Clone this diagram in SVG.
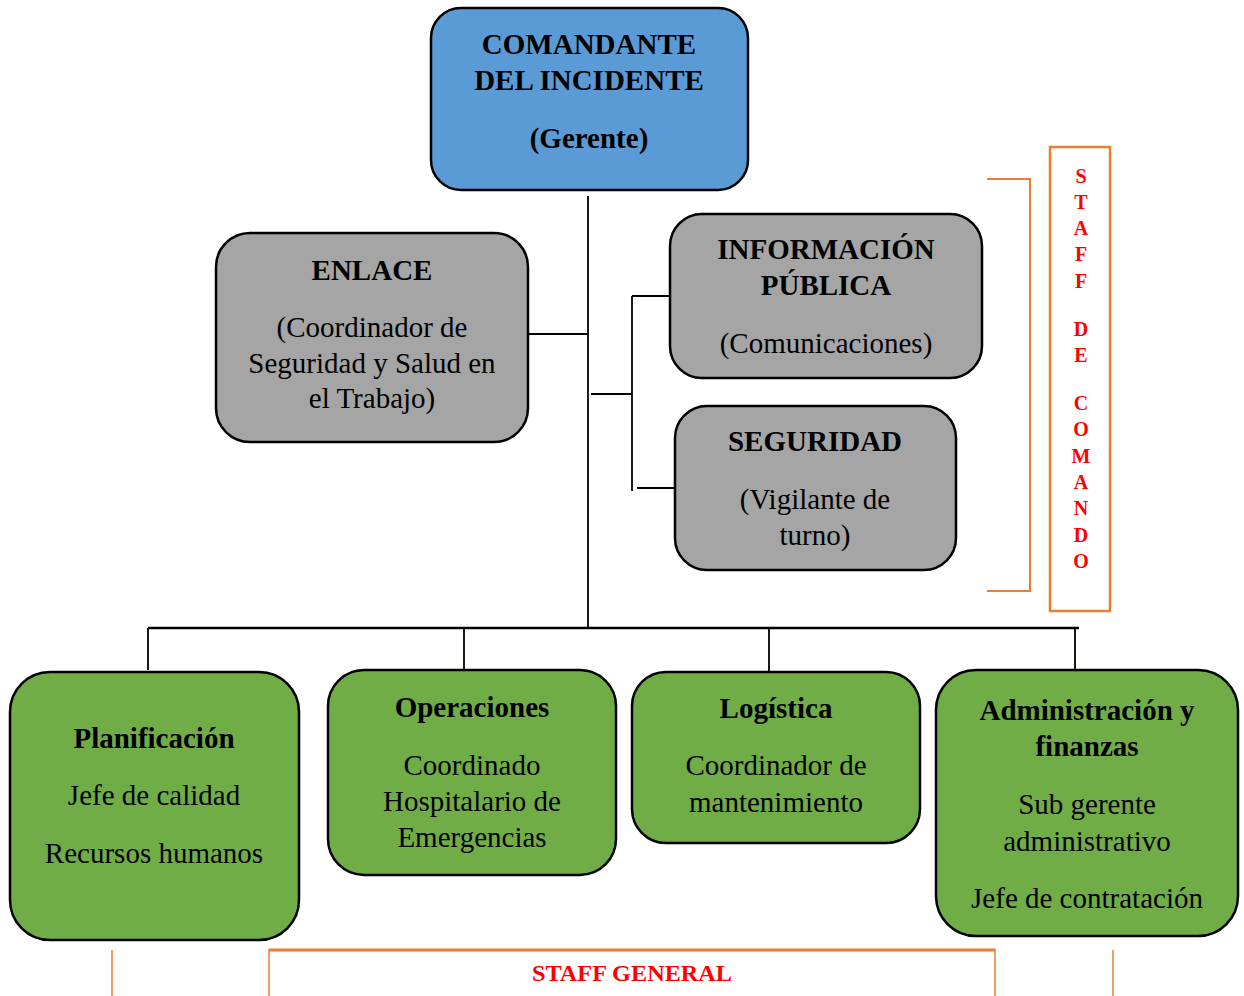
<svg xmlns="http://www.w3.org/2000/svg" width="1244" height="996" viewBox="0 0 1244 996">
<style>
.box{stroke:#000;stroke-width:2.5}
.blue{fill:#5B9BD5}
.gray{fill:#A5A5A5}
.green{fill:#70AD47}
text{font-family:"Liberation Serif","Times New Roman",serif;font-size:29px;fill:#000;text-anchor:middle}
.b{font-weight:bold}
.con{stroke:#000;stroke-width:1.8;fill:none}
.org{stroke:#ED7D31;fill:none}
.red{fill:#FF0000;font-weight:bold;font-size:20px}
</style>
<rect width="1244" height="996" fill="#fff"/>
<g id="connectors">
<line class="con" x1="588" y1="196" x2="588" y2="628"/>
<line class="con" x1="528" y1="334" x2="588" y2="334"/>
<line class="con" x1="591" y1="394" x2="632" y2="394"/>
<line class="con" x1="632" y1="296" x2="632" y2="491"/>
<line class="con" x1="632" y1="296" x2="670" y2="296"/>
<line class="con" x1="637" y1="488" x2="675" y2="488"/>
<line class="con" x1="148" y1="628" x2="1079" y2="628" style="stroke-width:2.5"/>
<line class="con" x1="148" y1="628" x2="148" y2="670"/>
<line class="con" x1="464" y1="628" x2="464" y2="670"/>
<line class="con" x1="769" y1="628" x2="769" y2="672"/>
<line class="con" x1="1075" y1="628" x2="1075" y2="670"/>
</g>
<g id="comandante">
<rect class="box blue" x="431" y="8" width="317" height="182" rx="30"/>
<text class="b" x="589" y="54">COMANDANTE</text>
<text class="b" x="589" y="90">DEL INCIDENTE</text>
<text class="b" x="589" y="148">(Gerente)</text>
</g>
<g id="enlace">
<rect class="box gray" x="216" y="233" width="312" height="209" rx="34"/>
<text class="b" x="372" y="280">ENLACE</text>
<text x="372" y="337">(Coordinador de</text>
<text x="372" y="373">Seguridad y Salud en</text>
<text x="372" y="408">el Trabajo)</text>
</g>
<g id="informacion">
<rect class="box gray" x="670" y="214" width="312" height="164" rx="32"/>
<text class="b" x="826" y="259">INFORMACIÓN</text>
<text class="b" x="826" y="295">PÚBLICA</text>
<text x="826" y="353">(Comunicaciones)</text>
</g>
<g id="seguridad">
<rect class="box gray" x="675" y="406" width="281" height="164" rx="32"/>
<text class="b" x="815" y="451">SEGURIDAD</text>
<text x="815" y="509">(Vigilante de</text>
<text x="815" y="545">turno)</text>
</g>
<g id="planificacion">
<rect class="box green" x="10" y="672" width="289" height="268" rx="40"/>
<text class="b" x="154" y="748">Planificación</text>
<text x="154" y="805">Jefe de calidad</text>
<text x="154" y="863">Recursos humanos</text>
</g>
<g id="operaciones">
<rect class="box green" x="328" y="670" width="288" height="205" rx="36"/>
<text class="b" x="472" y="717">Operaciones</text>
<text x="472" y="775">Coordinado</text>
<text x="472" y="811">Hospitalario de</text>
<text x="472" y="847">Emergencias</text>
</g>
<g id="logistica">
<rect class="box green" x="632" y="672" width="288" height="171" rx="34"/>
<text class="b" x="776" y="718">Logística</text>
<text x="776" y="775">Coordinador de</text>
<text x="776" y="812">mantenimiento</text>
</g>
<g id="administracion">
<rect class="box green" x="936" y="670" width="302" height="266" rx="40"/>
<text class="b" x="1087" y="720">Administración y</text>
<text class="b" x="1087" y="756">finanzas</text>
<text x="1087" y="814">Sub gerente</text>
<text x="1087" y="851">administrativo</text>
<text x="1087" y="908">Jefe de contratación</text>
</g>
<g id="staff-comando">
<polyline class="org" points="987,179 1030,179 1030,591 987,591" stroke-width="2"/>
<rect class="org" x="1050" y="147" width="60" height="464" stroke-width="2.5"/>
<text class="red" x="1081" y="183">S</text>
<text class="red" x="1081" y="209">T</text>
<text class="red" x="1081" y="235">A</text>
<text class="red" x="1081" y="261">F</text>
<text class="red" x="1081" y="288">F</text>
<text class="red" x="1081" y="336">D</text>
<text class="red" x="1081" y="362">E</text>
<text class="red" x="1081" y="410">C</text>
<text class="red" x="1081" y="436">O</text>
<text class="red" x="1081" y="463">M</text>
<text class="red" x="1081" y="489">A</text>
<text class="red" x="1081" y="515">N</text>
<text class="red" x="1081" y="542">D</text>
<text class="red" x="1081" y="568">O</text>
</g>
<g id="staff-general">
<line class="org" x1="112" y1="950" x2="112" y2="996" stroke-width="1.5"/>
<line class="org" x1="1113" y1="950" x2="1113" y2="996" stroke-width="1.5"/>
<polyline class="org" points="269,996 269,950 995,950 995,996" stroke-width="1.5"/>
<line class="org" x1="269" y1="950" x2="995" y2="950" stroke-width="3"/>
<text class="red" x="632" y="981" style="font-size:23px" textLength="200" lengthAdjust="spacingAndGlyphs">STAFF GENERAL</text>
</g>
</svg>
